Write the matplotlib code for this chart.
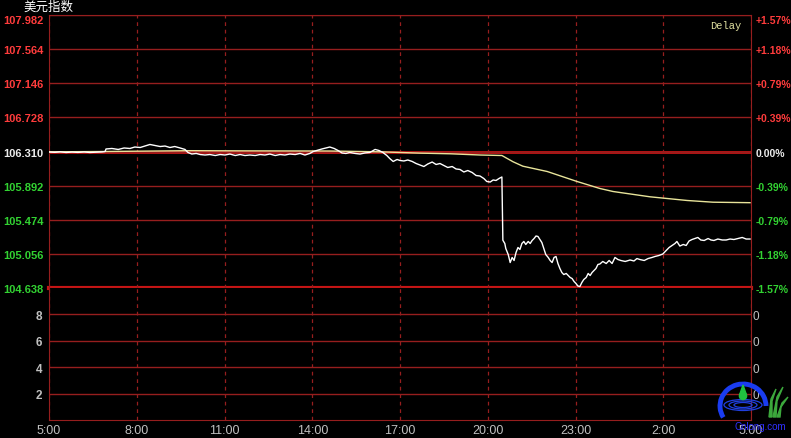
import matplotlib.pyplot as plt
from matplotlib.patches import Arc, Ellipse, Polygon, Circle

plt.rcParams["font.family"] = ["Liberation Sans", "DejaVu Sans"]

BASE = 106.310
PRICE_TICKS = [104.638, 105.056, 105.474, 105.892, 106.310, 106.728, 107.146, 107.564, 107.982]
VOL_TICKS = [2, 4, 6, 8]
TIME_TICKS = [0, 180, 360, 540, 720, 900, 1080, 1260, 1440]  # minutes since 5:00
TIME_LABELS = ["5:00", "8:00", "11:00", "14:00", "17:00", "20:00", "23:00", "2:00", "5:00"]

# dollar index, minutes since 5:00
price_t = [
    0, 12, 23, 35, 47, 59, 72, 84, 96, 109,
    115, 117, 129, 142, 154, 166, 176, 187, 197, 207,
    217, 228, 238, 248, 258, 269, 279, 285, 293, 302,
    310, 320, 330, 341, 351, 361, 371, 382, 392, 402,
    412, 423, 433, 443, 453, 464, 474, 484, 494, 505,
    515, 525, 535, 542, 552, 560, 568, 576, 585, 593,
    601, 609, 617, 628, 638, 648, 658, 669, 677, 685,
    693, 699, 706, 714, 720, 728, 736, 745, 753, 761,
    769, 777, 786, 794, 802, 810, 818, 827, 835, 843,
    851, 859, 868, 876, 884, 892, 898, 905, 911, 917,
    923, 929, 931, 935, 937, 942, 946, 950, 954, 958,
    962, 966, 970, 974, 978, 983, 987, 991, 995, 999,
    1003, 1007, 1011, 1015, 1019, 1024, 1028, 1032, 1036, 1040,
    1044, 1048, 1052, 1056, 1061, 1065, 1069, 1073, 1077, 1081,
    1085, 1089, 1093, 1097, 1102, 1106, 1110, 1114, 1118, 1122,
    1126, 1130, 1136, 1143, 1149, 1155, 1161, 1167, 1173, 1182,
    1192, 1200, 1206, 1212, 1221, 1229, 1237, 1243, 1251, 1259,
    1266, 1272, 1278, 1284, 1288, 1294, 1301, 1307, 1313, 1319,
    1325, 1331, 1337, 1344, 1352, 1358, 1364, 1372, 1381, 1389,
    1397, 1405, 1413, 1422, 1430, 1438,
]
price_v = [
    106.304, 106.300, 106.306, 106.298, 106.303, 106.299, 106.304, 106.298, 106.301, 106.305,
    106.310, 106.341, 106.347, 106.335, 106.353, 106.347, 106.365, 106.359, 106.377, 106.396,
    106.384, 106.371, 106.377, 106.359, 106.371, 106.353, 106.335, 106.298, 106.279, 106.286,
    106.273, 106.267, 106.273, 106.261, 106.273, 106.267, 106.279, 106.261, 106.273, 106.261,
    106.267, 106.261, 106.273, 106.267, 106.279, 106.261, 106.273, 106.267, 106.279, 106.273,
    106.286, 106.267, 106.286, 106.310, 106.328, 106.341, 106.353, 106.365, 106.347, 106.322,
    106.292, 106.286, 106.298, 106.286, 106.279, 106.292, 106.298, 106.335, 106.322, 106.298,
    106.261, 106.224, 106.188, 106.212, 106.200, 106.194, 106.206, 106.188, 106.163, 106.145,
    106.126, 106.157, 106.181, 106.151, 106.163, 106.139, 106.114, 106.126, 106.096, 106.090,
    106.059, 106.077, 106.053, 106.016, 106.010, 105.979, 105.943, 105.936, 105.961, 105.955,
    105.979, 105.998, 105.223, 105.183, 105.122, 105.048, 104.950, 105.012, 104.975, 105.073,
    105.134, 105.110, 105.183, 105.208, 105.171, 105.208, 105.183, 105.220, 105.244, 105.275,
    105.269, 105.232, 105.195, 105.122, 105.048, 105.012, 104.975, 104.950, 105.012, 105.024,
    104.938, 104.877, 104.828, 104.803, 104.816, 104.791, 104.767, 104.754, 104.718, 104.693,
    104.662, 104.656, 104.705, 104.742, 104.767, 104.816, 104.791, 104.828, 104.852, 104.877,
    104.926, 104.932, 104.963, 104.938, 104.975, 104.938, 105.012, 104.987, 104.975, 104.963,
    104.981, 104.969, 104.999, 104.987, 104.975, 104.999, 105.012, 105.024, 105.036, 105.054,
    105.097, 105.134, 105.159, 105.183, 105.208, 105.152, 105.171, 105.159, 105.214, 105.232,
    105.244, 105.257, 105.226, 105.220, 105.244, 105.226, 105.220, 105.238, 105.226, 105.226,
    105.238, 105.232, 105.244, 105.257, 105.238, 105.238,
]

# average line
avg_t = [0, 115, 290, 392, 576, 679, 761, 823, 884, 929,
         952, 972, 1022, 1083, 1130, 1157, 1233, 1309, 1362, 1438]
avg_v = [106.306, 106.310, 106.320, 106.318, 106.316, 106.306, 106.290, 106.282, 106.267, 106.261,
         106.184, 106.130, 106.065, 105.943, 105.857, 105.820, 105.755, 105.710, 105.689, 105.683]

BG = "black"
GRID = "#961e1e"
THICK = "#c81414"
RED = "#ff3c3c"
GREEN = "#32d232"
WHITE = "#ececec"
GRAY = "#c0c0c0"

W, H = 791, 439
fig = plt.figure(figsize=(W / 100, H / 100), dpi=100, facecolor=BG)
L, R = 49 / W, 751 / W
ax = fig.add_axes([L, 1 - 289 / H, R - L, (289 - 16) / H], facecolor=BG)
axv = fig.add_axes([L, 1 - 421 / H, R - L, (421 - 289) / H], facecolor=BG)


def label_color(v):
    if abs(v - BASE) < 1e-6:
        return WHITE
    return RED if v > BASE else GREEN


# ---- price panel ----
ax.set_xlim(0, 1440)
ax.set_ylim(PRICE_TICKS[0], PRICE_TICKS[-1])
ax.set_xticks(TIME_TICKS)
ax.tick_params(axis="x", length=0, labelbottom=False)
ax.grid(axis="x", color=GRID, ls=(0, (3, 3)), lw=0.9)
ax.set_yticks(PRICE_TICKS)
ax.set_yticklabels([f"{v:.3f}" for v in PRICE_TICKS])
ax.tick_params(axis="y", length=0, pad=4)
ax.grid(axis="y", color=GRID, lw=1)
for v, tick in zip(PRICE_TICKS, ax.yaxis.get_major_ticks()):
    tick.label1.set_color(label_color(v))
    tick.label1.set_fontweight("bold")
    tick.label1.set_fontsize(8)
ax.yaxis.get_major_ticks()[-1].label1.set_va("top")
ax.axhline(BASE, color=THICK, lw=2, zorder=1)
ax.axhline(PRICE_TICKS[0], color=THICK, lw=3, zorder=1, clip_on=False)
for s in ax.spines.values():
    s.set_color(GRID)
ax.spines["bottom"].set_visible(False)

axr = ax.twinx()
axr.set_ylim(ax.get_ylim())
axr.set_yticks(PRICE_TICKS)
axr.set_yticklabels([("+" if v > BASE + 1e-6 else "") + f"{(v / BASE - 1) * 100:.2f}%"
                     for v in PRICE_TICKS])
axr.tick_params(axis="y", length=0, pad=3)
for v, tick in zip(PRICE_TICKS, axr.yaxis.get_major_ticks()):
    tick.label2.set_color(label_color(v))
    tick.label2.set_fontweight("bold")
    tick.label2.set_fontsize(7.5)
axr.yaxis.get_major_ticks()[-1].label2.set_va("top")
for s in axr.spines.values():
    s.set_visible(False)

ax.plot(avg_t, avg_v, color="#e8e49a", lw=1, zorder=3)
ax.plot(price_t, price_v, color="white", lw=1, zorder=4)

ax.text(0.942, 0.963, "Delay", transform=ax.transAxes, color="#e0e0a0",
        fontsize=7.5, family="Liberation Mono", va="center", ha="left")

# ---- volume panel ----
axv.set_xlim(0, 1440)
axv.set_ylim(0, 10)
axv.set_yticks(VOL_TICKS)
axv.tick_params(axis="y", length=0, pad=5, labelcolor=GRAY, labelsize=8.5)
for t in axv.get_yticklabels():
    t.set_fontweight("bold")
axv.grid(axis="y", color=GRID, lw=1)
axv.set_xticks(TIME_TICKS)
axv.set_xticklabels(TIME_LABELS)
axv.tick_params(axis="x", length=0, pad=3, labelcolor=GRAY, labelsize=9)
axv.grid(axis="x", color=GRID, ls=(0, (3, 3)), lw=0.9)
for s in axv.spines.values():
    s.set_color(GRID)
axv.spines["top"].set_visible(False)

axvr = axv.twinx()
axvr.set_ylim(0, 10)
axvr.set_yticks(VOL_TICKS)
axvr.set_yticklabels(["0"] * len(VOL_TICKS))
axvr.tick_params(axis="y", length=0, pad=1, labelcolor=GRAY, labelsize=8.5)
for s in axvr.spines.values():
    s.set_visible(False)

fig.text(23 / W, 1 - 7 / H, "美元指数", family=["Noto Sans CJK SC", "DejaVu Sans"],
         fontsize=9, color="white", va="center", ha="left")

# ---- watermark logo ----
lax = fig.add_axes([0, 0, 1, 1], zorder=10)
lax.set_xlim(0, W)
lax.set_ylim(H, 0)
lax.axis("off")
lax.patch.set_alpha(0)
lax.add_patch(Arc((743, 407), 46, 44, theta1=150, theta2=360, color="#1a3cf0", lw=3.5))
for w_, h_ in [(38, 11), (28, 8), (18, 5)]:
    lax.add_patch(Ellipse((743, 406), w_, h_, fill=False, ec="#2040e0", lw=0.9))
lax.add_patch(Polygon([(743, 386), (739.5, 396), (746.5, 396)], color="#20c040"))
lax.add_patch(Circle((743, 397), 3.6, color="#20c040"))
for pts in [[(769, 418), (771, 400), (776, 390), (772, 402), (772, 418)],
            [(773, 418), (777, 398), (783, 388), (777, 402), (776, 418)],
            [(777, 418), (782, 404), (788, 398), (781, 408), (780, 418)]]:
    lax.add_patch(Polygon(pts, color="#3ca83c"))
lax.text(760, 427, "Cnlong.com", color="#3030ff", fontsize=7, ha="center", va="center")

fig.savefig("out.png", dpi=100, facecolor=BG)
